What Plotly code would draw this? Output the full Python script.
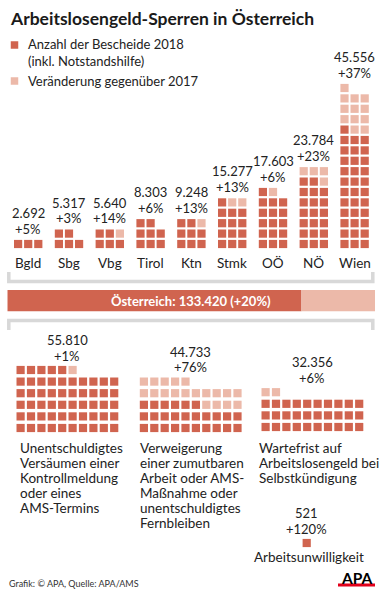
import plotly.graph_objects as go

# ---------------- data ----------------
regions = ["Bgld", "Sbg", "Vbg", "Tirol", "Ktn", "Stmk", "OÖ", "NÖ", "Wien"]
region_values = [2692, 5317, 5640, 8303, 9248, 15277, 17603, 23784, 45556]
region_change_pct = [5, 3, 14, 6, 13, 13, 6, 23, 37]
region_squares = [3, 5, 6, 8, 9, 15, 17, 24, 46]        # squares drawn (1 square ~ 1.000)
region_squares_new = [0, 0, 1, 0, 1, 2, 1, 4, 12]       # light squares = increase vs 2017

reason_lines = [
    ["Unentschuldigtes", "Versäumen einer", "Kontrollmeldung", "oder eines", "AMS-Termins"],
    ["Verweigerung", "einer zumutbaren", "Arbeit oder AMS-", "Maßnahme oder", "unentschuldigtes", "Fernbleiben"],
    ["Wartefrist auf", "Arbeitslosengeld bei", "Selbstkündigung"],
    ["Arbeitsunwilligkeit"],
]
reason_values = [55810, 44733, 32356, 521]
reason_change_pct = [1, 76, 6, 120]
reason_squares = [56, 45, 32, 1]
reason_squares_new = [1, 19, 2, 0]

austria_total = 133420
austria_change_pct = 20

title = "Arbeitslosengeld-Sperren in Österreich"
legend_labels = ["Anzahl der Bescheide 2018<br>(inkl. Notstandshilfe)", "Veränderung gegenüber 2017"]
source = "Grafik: © APA, Quelle: APA/AMS"

# ---------------- style ----------------
DARK = "#d0644f"
LIGHT = "#ecb9a9"
GRAY = "#d8d8d8"
TXT = "#222222"
FONT = "Lato"
W, H = 383, 600


def fmt(v):
    return f"{v:,}".replace(",", ".")


dark_x, dark_y, light_x, light_y = [], [], [], []
annotations = []


def add_text(x, y, text, size=12, xanchor="center", bold=False, color=TXT):
    annotations.append(dict(
        x=x, y=y, xref="x", yref="y", text=(f"<b>{text}</b>" if bold else text),
        showarrow=False, xanchor=xanchor, yanchor="middle",
        font=dict(family=FONT, size=size, color=color)))


# ---- regional waffles: 3 columns each ----
RX0, RSTEP, RPX, RPY, RBOT = 28.2, 40.8, 10.1, 10.4, 244.0
for g, (name, val, pct, n, nl) in enumerate(zip(regions, region_values, region_change_pct,
                                                 region_squares, region_squares_new)):
    cx = RX0 + g * RSTEP
    for i in range(n):
        r, c = divmod(i, 3)
        x = cx + (c - 1) * RPX
        y = RBOT - r * RPY
        if i < n - nl:
            dark_x.append(x); dark_y.append(y)
        else:
            light_x.append(x); light_y.append(y)
    top = RBOT - ((n - 1) // 3) * RPY
    add_text(cx, top - 15.5, f"+{pct}%", 13)
    add_text(cx, top - 31, fmt(val), 13)
    add_text(cx, 262.5, name, 13.5)

# ---- reasons waffles: 10 columns each ----
reason_left = [20.6, 143.9, 265.6, 306.7]
reason_bot = [428.0, 428.0, 427.0, 543.0]
reason_cols = [10, 10, 10, 1]
BPX, BPY = 10.4, 11.6
for g, (val, pct, n, nl) in enumerate(zip(reason_values, reason_change_pct,
                                          reason_squares, reason_squares_new)):
    cols = reason_cols[g]
    for i in range(n):
        r, c = divmod(i, cols)
        x = reason_left[g] + c * BPX
        y = reason_bot[g] - r * BPY
        if i < n - nl:
            dark_x.append(x); dark_y.append(y)
        else:
            light_x.append(x); light_y.append(y)
    cx = reason_left[g] + (cols - 1) * BPX / 2
    top = reason_bot[g] - ((n - 1) // cols) * BPY
    add_text(cx, top - 14.5, f"+{pct}%", 13)
    add_text(cx, top - 30, fmt(val), 13)

desc_x = [18.3, 138.3, 256.7]
for g in range(3):
    for k, line in enumerate(reason_lines[g]):
        add_text(desc_x[g], 448 + k * 15, line, 13.5, xanchor="left")
add_text(308.5, 557, reason_lines[3][0], 13.5)

# ---- title, legend, footer ----
add_text(8, 18.5, title, 17.5, xanchor="left", bold=True, color="#1a1a1a")
annotations.append(dict(x=26, y=52.5, xref="x", yref="y", text=legend_labels[0], showarrow=False,
                        xanchor="left", yanchor="middle", align="left",
                        font=dict(family=FONT, size=13, color=TXT)))
add_text(26, 80.5, legend_labels[1], 13, xanchor="left")
add_text(6.5, 583, source, 9, xanchor="left", color="#333333")
add_text(356.5, 577.5, "APA", 15.5, bold=True, color="#000000")

fig = go.Figure()
fig.add_trace(go.Scatter(x=dark_x, y=dark_y, mode="markers", hoverinfo="skip",
                         marker=dict(symbol="square", size=8.2, color=DARK, line=dict(width=0))))
fig.add_trace(go.Scatter(x=light_x, y=light_y, mode="markers", hoverinfo="skip",
                         marker=dict(symbol="square", size=8.2, color=LIGHT, line=dict(width=0))))
# legend swatches
fig.add_trace(go.Scatter(x=[14.5, 14.5], y=[45, 81], mode="markers", hoverinfo="skip",
                         marker=dict(symbol="square", size=7.5, color=[DARK, LIGHT], line=dict(width=0))))

# ---- Österreich bar (own axis scaled to the total) ----
base = austria_total * (1 - austria_change_pct / 100)
inc = austria_total - base
fig.add_trace(go.Bar(x=[base], y=[0], orientation="h", marker=dict(color=DARK, line=dict(width=0)),
                     width=1, xaxis="x2", yaxis="y2", hoverinfo="skip"))
fig.add_trace(go.Bar(x=[inc], y=[0], base=[base], orientation="h",
                     marker=dict(color=LIGHT, line=dict(width=0)),
                     width=1, xaxis="x2", yaxis="y2", hoverinfo="skip"))
annotations.append(dict(x=austria_total * 0.5, y=0, xref="x2", yref="y2",
                        text=f"<b>Österreich: {fmt(austria_total)} (+{austria_change_pct}%)</b>",
                        showarrow=False, xanchor="center", yanchor="middle",
                        font=dict(family=FONT, size=13, color="white")))

shapes = [
    dict(type="path", path="M 8.8,272 L 8.8,281.5 L 372.8,281.5 L 372.8,272", xref="x", yref="y",
         line=dict(color=GRAY, width=3.5)),
    dict(type="path", path="M 8.8,330 L 8.8,320.5 L 372.8,320.5 L 372.8,330", xref="x", yref="y",
         line=dict(color=GRAY, width=3.5)),
    dict(type="rect", x0=338, x1=375, y0=583.5, y1=586.5, xref="x", yref="y",
         fillcolor="#e2001a", line=dict(width=0)),
]

fig.update_layout(
    width=W, height=H, autosize=False,
    margin=dict(l=0, r=0, t=0, b=0, pad=0),
    paper_bgcolor="white", plot_bgcolor="white",
    showlegend=False, barmode="overlay",
    xaxis=dict(range=[0, W], visible=False, domain=[0, 1], fixedrange=True),
    yaxis=dict(range=[H, 0], visible=False, domain=[0, 1], fixedrange=True),
    xaxis2=dict(range=[0, austria_total], visible=False, anchor="y2",
                domain=[7.3 / W, 375 / W], fixedrange=True),
    yaxis2=dict(range=[-0.5, 0.5], visible=False, anchor="x2",
                domain=[1 - 311.5 / H, 1 - 290 / H], fixedrange=True),
    annotations=annotations,
    shapes=shapes,
)

fig.write_html("out.html", config={"displayModeBar": False},
               post_script="document.body.style.margin='0';")
